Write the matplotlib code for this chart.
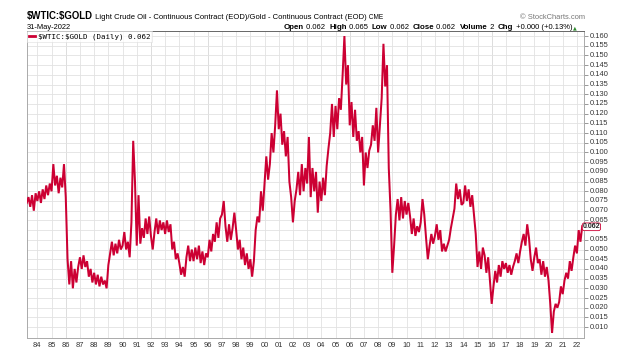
import numpy as np
import matplotlib
matplotlib.use("Agg")
import matplotlib.pyplot as plt

ratio_1980s = [
    0.074, 0.077, 0.072, 0.078, 0.070, 0.079,                      # 1983
    0.075, 0.080, 0.074, 0.081, 0.076, 0.083, 0.078, 0.084,        # 1984
    0.080, 0.094, 0.083, 0.088, 0.079, 0.087, 0.082, 0.094,        # 1985
    0.077, 0.045, 0.032, 0.044, 0.030, 0.040, 0.033, 0.041,        # 1986
    0.046, 0.040, 0.047, 0.041, 0.044, 0.036, 0.040, 0.033,        # 1987
    0.038, 0.032, 0.037, 0.031, 0.036, 0.032, 0.034, 0.030,        # 1988
    0.042, 0.048, 0.054, 0.047, 0.053, 0.048, 0.055, 0.050,        # 1989
]
ratio_1990s = [
    0.052, 0.059, 0.050, 0.054, 0.046, 0.064, 0.106, 0.085,        # 1990
    0.052, 0.078, 0.053, 0.061, 0.056, 0.066, 0.058, 0.067,        # 1991
    0.057, 0.050, 0.059, 0.066, 0.058, 0.065, 0.060, 0.064,        # 1992
    0.058, 0.065, 0.059, 0.063, 0.050, 0.054, 0.045, 0.048,        # 1993
    0.043, 0.037, 0.041, 0.036, 0.046, 0.052, 0.044, 0.050,        # 1994
    0.044, 0.051, 0.045, 0.052, 0.043, 0.049, 0.042, 0.048,        # 1995
    0.046, 0.055, 0.049, 0.058, 0.054, 0.064, 0.056, 0.066,        # 1996
    0.068, 0.075, 0.062, 0.054, 0.063, 0.055, 0.061, 0.069,        # 1997
    0.060, 0.050, 0.055, 0.045, 0.051, 0.042, 0.048, 0.040,        # 1998
    0.045, 0.036, 0.044, 0.060, 0.067, 0.064, 0.080, 0.070,        # 1999
]
ratio_2000s = [
    0.084, 0.098, 0.086, 0.094, 0.110, 0.100, 0.114, 0.132,        # 2000
    0.112, 0.120, 0.104, 0.111, 0.098, 0.108, 0.085, 0.077,        # 2001
    0.064, 0.075, 0.081, 0.090, 0.078, 0.094, 0.080, 0.092,        # 2002
    0.084, 0.108, 0.077, 0.092, 0.080, 0.090, 0.069, 0.085,        # 2003
    0.075, 0.087, 0.078, 0.093, 0.102, 0.110, 0.125, 0.108,        # 2004
    0.124, 0.112, 0.128, 0.122, 0.140, 0.160, 0.135, 0.145,        # 2005
    0.114, 0.126, 0.108, 0.122, 0.106, 0.111, 0.100, 0.108,        # 2006
    0.083, 0.100, 0.092, 0.101, 0.104, 0.114, 0.106, 0.123,        # 2007
    0.100, 0.114, 0.128, 0.156, 0.134, 0.145, 0.092, 0.070,        # 2008
    0.038, 0.052, 0.068, 0.076, 0.065, 0.077, 0.066, 0.075,        # 2009
]
ratio_2010s = [
    0.068, 0.074, 0.067, 0.058, 0.066, 0.057, 0.062, 0.059,        # 2010
    0.064, 0.076, 0.068, 0.056, 0.045, 0.052, 0.058, 0.053,        # 2011
    0.057, 0.063, 0.055, 0.060, 0.049, 0.053, 0.049, 0.052,        # 2012
    0.055, 0.061, 0.066, 0.071, 0.084, 0.076, 0.081, 0.073,        # 2013
    0.074, 0.083, 0.075, 0.081, 0.072, 0.078, 0.068, 0.058,        # 2014
    0.041, 0.049, 0.040, 0.051, 0.047, 0.038, 0.046, 0.034,        # 2015
    0.022, 0.031, 0.039, 0.033, 0.042, 0.036, 0.044, 0.040,        # 2016
    0.043, 0.038, 0.042, 0.037, 0.041, 0.044, 0.048, 0.043,        # 2017
    0.049, 0.054, 0.058, 0.052, 0.063, 0.056, 0.045, 0.039,        # 2018
    0.046, 0.051, 0.043, 0.045, 0.037, 0.044, 0.036, 0.041,        # 2019
]
ratio_2020s = [
    0.034, 0.022, 0.007, 0.018, 0.022, 0.020, 0.023, 0.031,        # 2020
    0.027, 0.034, 0.038, 0.035, 0.044, 0.039, 0.046, 0.052,        # 2021
    0.048, 0.060, 0.054, 0.062,                                    # 2022
]
start_year = 1983.25
step = 0.125
last_value = 0.062

year_labels = [f"{y % 100:02d}" for y in range(1984, 2023)]
year_ticks = list(range(1984, 2023))
dark_years = [1986, 1992, 1996, 2006, 2016]
price_ticks = np.round(np.arange(0.010, 0.1601, 0.005), 3)

ratio = np.array(ratio_1980s + ratio_1990s + ratio_2000s + ratio_2010s + ratio_2020s)
t = start_year + step * np.arange(len(ratio))

W, H = 621, 360
plt.rcParams["font.family"] = ["Liberation Sans", "DejaVu Sans"]
fig = plt.figure(figsize=(W / 100, H / 100), dpi=100)
ax = fig.add_axes([27 / W, 22 / H, 557 / W, 307 / H])

RED = "#cc0033"
ax.plot(t, ratio, color=RED, lw=1.45, solid_joinstyle="miter", zorder=3)

ax.set_xlim(1983.27, 2022.5)
ax.set_ylim(0.0044, 0.1626)

ax.set_xticks(year_ticks)
ax.set_xticklabels(year_labels)
ax.set_yticks(price_ticks)
# the 0.060 label sits under the last-value tag, as in the source chart
ax.set_yticklabels(["" if abs(v - 0.060) < 1e-9 else f"{v:.3f}" for v in price_ticks])
ax.yaxis.tick_right()
ax.tick_params(axis="y", length=3, width=0.6, color="#888888", pad=1, labelsize=5.4)
ax.tick_params(axis="x", length=0, pad=3, labelsize=5.4)
for lab in ax.get_xticklabels() + ax.get_yticklabels():
    lab.set_color("#333333")
for lab in ax.get_yticklabels():
    lab.set_verticalalignment("center")

ax.grid(True, color="#e2e2e2", lw=0.6, zorder=0)
for y in dark_years:
    ax.axvline(y, color="#c8c8c8", lw=0.7, zorder=0)
for s in ax.spines.values():
    s.set_color("#aaaaaa")
    s.set_linewidth(0.7)
ax.spines["top"].set_color("#666666")

# last value tag on the right axis
ax.annotate(f"{last_value:.3f}", xy=(1.0, last_value), xycoords=("axes fraction", "data"),
            xytext=(-1.0, -0.4), textcoords="offset points", ha="left", va="center",
            fontsize=5.0, fontweight="bold", color="#222222", zorder=5,
            bbox=dict(boxstyle="round,pad=0.05,rounding_size=0.3", fc="white", ec=RED, lw=0.6),
            annotation_clip=False)

# legend box
leg = ax.legend([plt.Line2D([], [], color=RED, lw=2)], ["x"],
                loc="upper left", bbox_to_anchor=(0, 1), borderaxespad=0.0, frameon=True,
                handlelength=0.8, handletextpad=0.4, borderpad=0.25,
                prop={"family": "DejaVu Sans Mono", "size": 5.4})
leg.get_frame().set_edgecolor("#dddddd")
leg.get_frame().set_linewidth(0.5)
leg.get_frame().set_boxstyle("square", pad=0)
leg.get_texts()[0].set_text(rf"\$WTIC:\$GOLD (Daily) {last_value:.3f}")

fig.canvas.draw()
renderer = fig.canvas.get_renderer()


def runs(x_px, y_px, parts, align="left"):
    """Place a row of text pieces side by side, x/y in pixels from top-left."""
    widths = []
    for text, size, weight, color in parts:
        tmp = fig.text(0, 0, text, fontsize=size, fontweight=weight)
        widths.append(tmp.get_window_extent(renderer).width)
        tmp.remove()
    x = x_px - sum(widths) if align == "right" else x_px
    for (text, size, weight, color), w in zip(parts, widths):
        fig.text(x / W, 1 - y_px / H, text, fontsize=size, fontweight=weight,
                 color=color, va="baseline")
        x += w


runs(27, 19, [
    (r"\$WTIC:\$GOLD", 6.9, "bold", "black"),
    (" Light Crude Oil - Continuous Contract (EOD)/Gold - Continuous Contract (EOD)", 5.5, "normal", "black"),
    (" CME", 4.7, "normal", "black"),
])
runs(585, 19, [("© StockCharts.com", 5.4, "normal", "#777777")], align="right")
runs(27, 29, [("31-May-2022", 5.4, "normal", "black")])
runs(572, 29, [
    ("Open", 5.7, "bold", "black"), (" 0.062  ", 5.5, "normal", "black"),
    ("High", 5.7, "bold", "black"), (" 0.065  ", 5.5, "normal", "black"),
    ("Low", 5.7, "bold", "black"), (" 0.062  ", 5.5, "normal", "black"),
    ("Close", 5.7, "bold", "black"), (" 0.062  ", 5.5, "normal", "black"),
    ("Volume", 5.7, "bold", "black"), (" 2  ", 5.5, "normal", "black"),
    ("Chg", 5.7, "bold", "black"), (" +0.000 (+0.13%)", 5.5, "normal", "black"),
], align="right")
fig.text(573 / W, 1 - 29 / H, "▲", fontsize=3.5, color="#2e8b2e", va="baseline",
         family="DejaVu Sans")

fig.savefig("out.png", dpi=100, facecolor="white")
